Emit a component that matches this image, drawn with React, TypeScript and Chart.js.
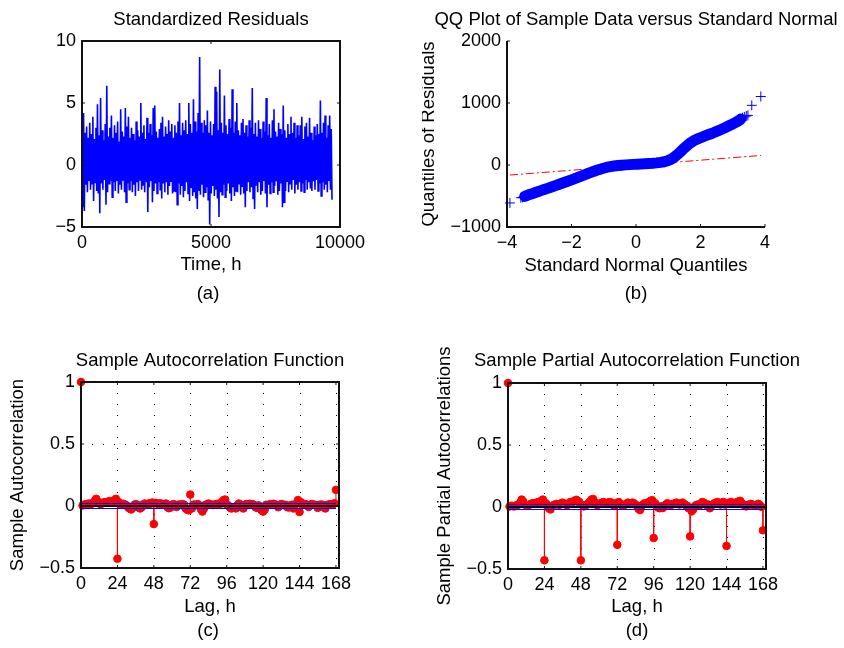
import React, { useEffect, useRef } from "react";
import { Chart, registerables } from "chart.js";

Chart.register(...registerables);

const FONT_FAMILY = '"Liberation Sans", Arial, Helvetica, sans-serif';

// ---------- (a) Standardized residuals ----------
const residTimeStep = 30; // hours between consecutive read values
const residUpper = [
  1.9, 4.2, 2.6, 3.1, 2.2, 3.4, 2.5, 3.9, 2.1, 3.0,
  4.9, 2.4, 5.4, 2.8, 2.0, 3.3, 6.4, 2.3, 3.0, 4.0,
  2.2, 3.2, 2.6, 3.5, 1.9, 4.5, 2.7, 2.3, 4.6, 3.1,
  3.9, 2.2, 3.0, 2.5, 2.0, 3.5, 2.8, 2.3, 5.0, 2.6,
  3.2, 2.1, 3.8, 2.6, 3.3, 2.4, 4.6, 4.8, 2.7, 2.2,
  2.9, 3.4, 3.9, 2.3, 3.1, 2.5, 3.6, 2.7, 3.3, 2.2,
  3.2, 2.6, 3.5, 5.0, 2.4, 3.4, 2.8, 3.6, 2.5, 5.0,
  3.3, 2.6, 5.3, 3.5, 2.7, 4.2, 8.7, 3.4, 2.6, 3.6,
  3.2, 4.4, 2.6, 3.5, 2.4, 3.3, 6.3, 5.9, 2.8, 7.7,
  3.4, 2.6, 5.6, 3.2, 2.5, 3.7, 3.0, 6.1, 2.6, 3.5,
  5.0, 2.8, 2.4, 3.4, 3.7, 2.6, 3.2, 2.3, 3.6, 3.0,
  6.2, 2.5, 3.4, 2.3, 3.6, 2.9, 2.2, 3.5, 2.7, 5.4,
  2.4, 3.3, 2.2, 3.6, 4.5, 2.7, 2.3, 3.4, 2.9, 2.5,
  4.8, 2.8, 2.2, 3.3, 2.5, 3.9, 2.6, 3.4, 2.2, 3.2,
  2.4, 3.2, 3.9, 2.1, 3.1, 3.4, 2.3, 3.8, 2.6, 2.0,
  3.1, 2.4, 3.3, 2.5, 5.2, 2.6, 3.4, 4.0, 2.2, 3.2,
  4.0, 2.9,
];
const residLower = [
  -3.4, -3.7, -1.6, -2.2, -1.3, -2.0, -1.5, -2.9, -1.4, -2.1,
  -2.3, -3.9, -1.5, -2.0, -1.2, -3.2, -2.2, -1.5, -1.3, -2.6,
  -1.4, -2.1, -1.3, -2.3, -1.6, -2.0, -1.2, -2.2, -3.0, -1.5,
  -2.0, -1.3, -2.2, -1.6, -2.5, -1.4, -2.1, -1.2, -2.0, -1.6,
  -2.2, -1.4, -3.8, -1.8, -1.3, -3.0, -2.1, -1.5, -2.3, -1.4,
  -2.0, -2.7, -1.5, -2.2, -1.4, -2.4, -1.7, -1.3, -2.3, -2.1,
  -2.2, -3.2, -1.5, -2.4, -1.7, -2.6, -2.1, -1.4, -2.3, -2.9,
  -1.8, -2.5, -2.2, -2.7, -3.55, -2.1, -2.4, -1.6, -2.6, -2.2,
  -1.8, -2.8, -4.8, -2.3, -1.7, -2.5, -2.0, -2.7, -4.2, -2.2,
  -2.4, -1.6, -2.6, -2.1, -1.5, -2.3, -2.9, -1.8, -2.5, -2.1,
  -2.2, -1.5, -2.4, -1.7, -2.3, -3.4, -2.1, -1.4, -2.2, -1.8,
  -2.7, -3.55, -1.6, -2.2, -1.4, -2.4, -2.1, -1.3, -2.3, -3.4,
  -1.6, -2.3, -1.4, -2.2, -1.7, -1.3, -2.4, -2.1, -1.5, -3.4,
  -3.0, -2.1, -1.3, -2.2, -1.5, -2.0, -1.2, -2.3, -1.6, -2.0,
  -1.4, -2.1, -1.5, -2.2, -1.2, -2.0, -1.4, -1.9, -2.1, -1.3,
  -2.0, -1.2, -2.1, -1.5, -2.5, -1.4, -2.0, -1.6, -2.2, -1.3,
  -2.0, -2.8,
];
const residXTicks = [0, 5000, 10000];
const residYTicks = [-5, 0, 5, 10];

// ---------- (b) QQ plot ----------
const qqBandX = [
  -3.45, -3.38, -3.3, -3.22, -3.14, -3.05, -2.95, -2.85, -2.74, -2.62,
  -2.5, -2.38, -2.25, -2.12, -2.0, -1.88, -1.76, -1.64, -1.52, -1.4,
  -1.28, -1.16, -1.04, -0.92, -0.8, -0.68, -0.56, -0.44, -0.32, -0.2,
  -0.08, 0.04, 0.16, 0.28, 0.4, 0.52, 0.64, 0.76, 0.88, 0.98,
  1.06, 1.14, 1.22, 1.3, 1.38, 1.46, 1.54, 1.62, 1.7, 1.78,
  1.86, 1.95, 2.05, 2.16, 2.28, 2.4, 2.52, 2.64, 2.76, 2.88,
  3.0, 3.1, 3.18, 3.25,
];
const qqBandY = [
  -505, -492, -475, -462, -448, -432, -414, -396, -377, -355,
  -333, -310, -286, -262, -240, -216, -192, -168, -144, -120,
  -97, -75, -56, -40, -27, -17, -9, -3, 2, 6,
  10, 13, 16, 20, 24, 28, 34, 42, 53, 68,
  86, 110, 140, 175, 215, 255, 292, 328, 360, 388,
  410, 430, 450, 472, 496, 520, 546, 573, 602, 632,
  662, 690, 715, 740,
];
const qqTailX = [-3.91, -3.57, -3.52, -3.48, 3.3, 3.36, 3.42, 3.47, 3.59, 3.87];
const qqTailY = [-612, -528, -522, -512, 762, 775, 790, 800, 962, 1105];
const qqLineX = [-3.91, 3.88];
const qqLineY = [-162, 154];
const qqXTicks = [-4, -2, 0, 2, 4];
const qqYTicks = [-1000, 0, 1000, 2000];

// ---------- (c) ACF, (d) PACF ----------
const acfValues = [
  1.0, 0.004, 0.012, 0.008, 0.015, 0.02, 0.012, 0.018, 0.025, 0.04,
  0.058, 0.035, 0.02, 0.015, 0.022, 0.03, 0.028, 0.032, 0.035, 0.04,
  0.03, 0.038, 0.045, 0.058, -0.425, 0.03, 0.015, 0.01, 0.018, 0.012,
  0.005, -0.01, -0.02, -0.028, -0.015, 0.008, 0.015, 0.01, -0.012, -0.02,
  -0.01, 0.012, 0.02, 0.01, 0.015, 0.022, 0.018, 0.028, -0.146, 0.025,
  0.02, 0.015, 0.022, 0.018, 0.01, 0.015, 0.02, -0.01, -0.018, -0.012,
  0.01, 0.015, 0.005, -0.008, 0.01, 0.012, 0.008, 0.015, 0.01, -0.02,
  -0.03, -0.035, 0.092, -0.02, 0.01, 0.012, 0.008, 0.015, 0.005, -0.025,
  -0.045, -0.02, 0.01, 0.012, 0.02, 0.015, 0.01, 0.008, 0.012, 0.015,
  0.018, 0.01, 0.02, 0.035, 0.048, 0.052, 0.01, 0.005, -0.01, -0.02,
  -0.015, -0.01, -0.02, 0.005, 0.02, 0.012, -0.01, -0.02, 0.01, 0.015,
  0.012, 0.018, 0.01, 0.015, 0.008, -0.01, -0.015, 0.005, -0.02, -0.035,
  -0.045, -0.03, 0.01, 0.005, 0.012, 0.015, 0.01, 0.018, 0.012, 0.008,
  -0.01, 0.01, 0.015, 0.012, 0.005, 0.008, -0.01, -0.012, 0.005, 0.01,
  -0.02, 0.01, 0.02, 0.048, -0.048, 0.03, 0.01, 0.012, 0.015, 0.008,
  -0.008, 0.01, 0.015, 0.012, 0.01, 0.005, -0.015, 0.008, 0.012, 0.01,
  -0.01, -0.02, 0.008, 0.01, 0.015, 0.01, 0.012, 0.022, 0.13,
];
const pacfValues = [
  1.0, 0.004, 0.01, 0.008, 0.005, 0.012, 0.015, 0.02, 0.035, 0.06,
  0.045, 0.02, 0.015, 0.01, 0.018, 0.025, 0.03, 0.028, 0.032, 0.035,
  0.04, 0.042, 0.05, 0.06, -0.43, 0.03, 0.01, -0.01, -0.02, 0.005,
  0.015, 0.02, 0.025, 0.02, 0.018, 0.03, 0.035, 0.025, 0.02, 0.015,
  0.03, 0.04, 0.035, 0.045, 0.05, 0.058, 0.05, 0.04, -0.43, 0.015,
  0.005, 0.012, 0.02, 0.03, 0.045, 0.06, 0.065, 0.04, 0.02, 0.015,
  0.025, 0.03, 0.035, 0.04, 0.03, 0.025, 0.035, 0.04, 0.035, 0.02,
  0.01, 0.03, -0.305, 0.04, 0.025, 0.015, 0.01, 0.02, 0.025, 0.035,
  0.03, 0.025, 0.035, 0.03, 0.02, 0.01, -0.015, -0.025, 0.01, 0.02,
  0.03, 0.025, 0.035, 0.04, 0.05, 0.055, -0.25, 0.03, 0.01, -0.005,
  -0.01, 0.005, -0.008, 0.01, 0.02, 0.03, 0.025, 0.015, 0.02, 0.025,
  0.03, 0.035, 0.025, 0.02, 0.03, 0.035, 0.025, 0.015, 0.01, -0.01,
  -0.237, -0.035, -0.02, 0.005, 0.015, 0.02, 0.01, 0.025, 0.04, 0.035,
  0.025, 0.015, 0.02, -0.01, 0.01, 0.02, 0.03, 0.035, 0.04, 0.03,
  0.02, 0.035, 0.04, 0.02, -0.314, 0.03, 0.035, 0.04, 0.03, 0.025,
  0.035, 0.04, 0.045, 0.05, 0.03, 0.02, 0.01, 0.005, 0.015, 0.02,
  0.025, 0.02, 0.015, 0.01, 0.02, 0.025, 0.015, 0.002, -0.188,
];
const confBound = 0.0203;
const lagTicks = [0, 24, 48, 72, 96, 120, 144, 168];
const corrTicks = [-0.5, 0, 0.5, 1];
const lagAxisMax = 170;
const lastLag = 168;

// ---------- helpers ----------
const fmt = (v: number) => (v < 0 ? "\u2212" + String(Math.abs(v)) : String(v));

const matlabAxes = {
  id: "matlabAxes",
  beforeDatasetsDraw(chart: any, _a: any, o: any) {
    if (!o.grid) return;
    const { ctx, chartArea: a, scales } = chart;
    const xs = scales.x;
    const ys = scales.y;
    ctx.save();
    ctx.strokeStyle = "#000";
    ctx.lineWidth = 1;
    ctx.setLineDash([1, 10]);
    for (const t of xs.ticks) {
      const p = Math.round(xs.getPixelForValue(t.value)) + 0.5;
      if (p <= a.left + 2 || p >= a.right - 1) continue;
      ctx.beginPath();
      ctx.moveTo(p, a.top);
      ctx.lineTo(p, a.bottom);
      ctx.stroke();
    }
    for (const t of ys.ticks) {
      const p = Math.round(ys.getPixelForValue(t.value)) + 0.5;
      if (p <= a.top + 2 || p >= a.bottom - 2) continue;
      ctx.beginPath();
      ctx.moveTo(a.left, p);
      ctx.lineTo(a.right, p);
      ctx.stroke();
    }
    ctx.restore();
  },
  afterDatasetsDraw(chart: any, _a: any, o: any) {
    const { ctx, chartArea: a, scales } = chart;
    const xs = scales.x;
    const ys = scales.y;
    const tl = 3;
    ctx.save();
    ctx.setLineDash([]);
    ctx.strokeStyle = "#111";
    ctx.lineWidth = 2;
    ctx.beginPath();
    if (o.box) {
      ctx.rect(a.left, a.top, a.right - a.left, a.bottom - a.top);
    } else {
      ctx.moveTo(a.left, a.top);
      ctx.lineTo(a.left, a.bottom);
      ctx.lineTo(a.right, a.bottom);
    }
    ctx.stroke();
    ctx.lineWidth = 1;
    ctx.beginPath();
    for (const t of xs.ticks) {
      const p = xs.getPixelForValue(t.value);
      ctx.moveTo(p, a.bottom);
      ctx.lineTo(p, a.bottom - tl);
      if (o.box) {
        ctx.moveTo(p, a.top);
        ctx.lineTo(p, a.top + tl);
      }
    }
    for (const t of ys.ticks) {
      const p = ys.getPixelForValue(t.value);
      ctx.moveTo(a.left, p);
      ctx.lineTo(a.left + tl, p);
      if (o.box) {
        ctx.moveTo(a.right, p);
        ctx.lineTo(a.right - tl, p);
      }
    }
    ctx.stroke();
    ctx.restore();
  },
};

const panelText = {
  id: "panelText",
  afterDraw(chart: any, _a: any, o: any) {
    const { ctx, chartArea: a } = chart;
    const cx = (a.left + a.right) / 2;
    const cy = (a.top + a.bottom) / 2;
    ctx.save();
    ctx.fillStyle = "#000";
    ctx.textAlign = "center";
    ctx.textBaseline = "middle";
    ctx.font = `${o.size}px ${FONT_FAMILY}`;
    if (o.title) ctx.fillText(o.title, cx, o.titleY);
    if (o.xLabel) ctx.fillText(o.xLabel, cx, o.xLabelY);
    if (o.tag) ctx.fillText(o.tag, cx + (o.tagDx || 0), o.tagY);
    if (o.yLabel) {
      ctx.translate(o.yLabelX, cy);
      ctx.rotate(-Math.PI / 2);
      ctx.fillText(o.yLabel, 0, 0);
    }
    ctx.restore();
  },
};

type Geo = { w: number; h: number; L: number; T: number; R: number; B: number };
const X_AXIS_H = 40;

function axisCfg(min: number, max: number, ticks: number[], isX: boolean, geo: Geo) {
  return {
    type: "linear",
    min,
    max,
    afterBuildTicks: (s: any) => {
      s.ticks = ticks.map((v) => ({ value: v }));
    },
    afterFit: (s: any) => {
      if (isX) s.height = X_AXIS_H;
      else s.width = geo.L;
    },
    grid: { display: false, drawTicks: false },
    border: { display: false },
    ticks: {
      padding: isX ? 5 : 6,
      autoSkip: false,
      maxRotation: 0,
      color: "#000",
      font: { family: FONT_FAMILY, size: 18 },
      callback: (v: number) => fmt(v),
    },
  };
}

function makeConfig(geo: Geo, datasets: any[], x: any, y: any, axesOpts: any, textOpts: any) {
  return {
    type: "scatter",
    data: { datasets },
    options: {
      animation: false,
      responsive: false,
      maintainAspectRatio: false,
      events: [],
      layout: {
        padding: { left: 0, top: geo.T, right: geo.w - geo.R, bottom: geo.h - geo.B - X_AXIS_H },
      },
      plugins: {
        legend: { display: false },
        tooltip: { enabled: false },
        title: { display: false },
        matlabAxes: axesOpts,
        panelText: { size: 18.5, ...textOpts },
      },
      scales: { x, y },
    },
    plugins: [matlabAxes, panelText],
  };
}

const zip = (xs: number[], ys: number[]) => xs.map((x, i) => ({ x, y: ys[i] }));

function configA() {
  const geo = { w: 422, h: 324, L: 82, T: 41, R: 340, B: 227 };
  const series: { x: number; y: number }[] = [];
  residUpper.forEach((u, i) => {
    series.push({ x: 2 * i * residTimeStep, y: u });
    series.push({ x: (2 * i + 1) * residTimeStep, y: residLower[i] });
  });
  return makeConfig(
    geo,
    [
      {
        data: series,
        showLine: true,
        borderColor: "#0000ff",
        borderWidth: 1.6,
        pointRadius: 0,
      },
    ],
    axisCfg(0, 10000, residXTicks, true, geo),
    axisCfg(-5, 10, residYTicks, false, geo),
    { box: true, grid: false },
    { title: "Standardized Residuals", titleY: 20, xLabel: "Time, h", xLabelY: 265, tag: "(a)", tagY: 293.5, tagDx: -3 }
  );
}

function configB() {
  const geo = { w: 422, h: 324, L: 85, T: 41, R: 343, B: 227 };
  return makeConfig(
    geo,
    [
      {
        data: zip(qqBandX, qqBandY),
        showLine: true,
        borderColor: "#0000ff",
        borderWidth: 11,
        borderJoinStyle: "round",
        borderCapStyle: "round",
        pointStyle: "cross",
        pointRadius: 5,
        pointBorderColor: "#0000ff",
        pointBorderWidth: 1,
        order: 1,
        clip: false,
      },
      {
        data: zip(qqTailX, qqTailY),
        showLine: false,
        pointStyle: "cross",
        pointRadius: 5,
        pointBorderColor: "#0000ff",
        pointBorderWidth: 1,
        order: 1,
        clip: false,
      },
      {
        data: zip(qqLineX, qqLineY),
        showLine: true,
        borderColor: "#ff0000",
        borderWidth: 1,
        borderDash: [8, 3, 2, 3],
        pointRadius: 0,
        order: 2,
      },
    ],
    axisCfg(-4, 4, qqXTicks, true, geo),
    axisCfg(-1000, 2000, qqYTicks, false, geo),
    { box: false, grid: false },
    {
      title: "QQ Plot of Sample Data versus Standard Normal",
      titleY: 20,
      xLabel: "Standard Normal Quantiles",
      xLabelY: 266,
      tag: "(b)",
      tagY: 293.5,
      yLabel: "Quantiles of Residuals",
      yLabelX: 7,
    }
  );
}

function corrDatasets(values: number[]) {
  const markers = values.map((v, k) => ({ x: k, y: v }));
  const stems: { x: number; y: number | null }[] = [];
  values.forEach((v, k) => {
    stems.push({ x: k, y: 0 });
    stems.push({ x: k, y: v });
    stems.push({ x: k, y: null });
  });
  return [
    {
      data: [
        { x: 0, y: 0 },
        { x: lagAxisMax, y: 0 },
      ],
      showLine: true,
      borderColor: "#000",
      borderWidth: 2,
      pointRadius: 0,
      order: 0,
    },
    {
      data: [
        { x: 0, y: confBound },
        { x: lastLag, y: confBound },
      ],
      showLine: true,
      borderColor: "#0000ff",
      borderWidth: 1,
      pointRadius: 0,
      order: 1,
    },
    {
      data: [
        { x: 0, y: -confBound },
        { x: lastLag, y: -confBound },
      ],
      showLine: true,
      borderColor: "#0000ff",
      borderWidth: 1,
      pointRadius: 0,
      order: 1,
    },
    {
      data: markers,
      showLine: false,
      pointStyle: "circle",
      pointRadius: 3.8,
      pointBackgroundColor: "#ff0000",
      pointBorderColor: "#ff0000",
      pointBorderWidth: 1,
      order: 2,
      clip: false,
    },
    {
      data: stems,
      showLine: true,
      spanGaps: false,
      borderColor: "#ff0000",
      borderWidth: 1,
      pointRadius: 0,
      order: 3,
      clip: false,
    },
  ];
}

function configC() {
  const geo = { w: 422, h: 324, L: 81, T: 58, R: 339, B: 244 };
  return makeConfig(
    geo,
    corrDatasets(acfValues),
    axisCfg(0, lagAxisMax, lagTicks, true, geo),
    axisCfg(-0.5, 1, corrTicks, false, geo),
    { box: true, grid: true },
    {
      title: "Sample Autocorrelation Function",
      titleY: 36.5,
      xLabel: "Lag, h",
      xLabelY: 282.5,
      tag: "(c)",
      tagY: 307,
      tagDx: -2,
      yLabel: "Sample Autocorrelation",
      yLabelX: 18,
    }
  );
}

function configD() {
  const geo = { w: 422, h: 324, L: 86, T: 59, R: 344, B: 245 };
  return makeConfig(
    geo,
    corrDatasets(pacfValues),
    axisCfg(0, lagAxisMax, lagTicks, true, geo),
    axisCfg(-0.5, 1, corrTicks, false, geo),
    { box: true, grid: true },
    {
      title: "Sample Partial Autocorrelation Function",
      titleY: 36.5,
      xLabel: "Lag, h",
      xLabelY: 282.5,
      tag: "(d)",
      tagY: 307,
      yLabel: "Sample Partial Autocorrelations",
      yLabelX: 22.5,
    }
  );
}

function Panel(props: { left: number; top: number; make: () => any }) {
  const ref = useRef<HTMLCanvasElement | null>(null);
  useEffect(() => {
    const chart = new Chart(ref.current as HTMLCanvasElement, props.make());
    return () => chart.destroy();
  }, []);
  return (
    <canvas
      ref={ref}
      width={422}
      height={324}
      style={{ position: "absolute", left: props.left, top: props.top, width: 422, height: 324 }}
    />
  );
}

export default function App() {
  return (
    <div style={{ position: "fixed", left: 0, top: 0, width: 844, height: 648, background: "#fff" }}>
      <Panel left={0} top={0} make={configA} />
      <Panel left={422} top={0} make={configB} />
      <Panel left={0} top={324} make={configC} />
      <Panel left={422} top={324} make={configD} />
    </div>
  );
}
